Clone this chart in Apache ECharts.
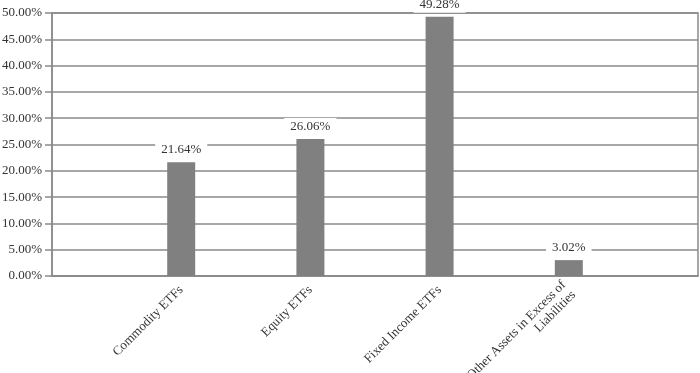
<!DOCTYPE html>
<html><head><meta charset="utf-8">
<script src="https://cdn.jsdelivr.net/npm/echarts@6/dist/echarts.min.js"></script>
<style>html,body{margin:0;padding:0;background:#fff}#c{width:700px;height:373px}</style>
</head><body><div id="c"></div>
<script>
var categories = ['', 'Commodity ETFs', 'Equity ETFs', 'Fixed Income ETFs', 'Other Assets in Excess of\nLiabilities', ''];
var values = [null, 21.64, 26.06, 49.28, 3.02, null];
var yMin = 0, yMax = 50, yStep = 5;

var font = '"Liberation Serif", "Times New Roman", Times, serif';
var lineColor = '#8a8a8a';
var chart = echarts.init(document.getElementById('c'));
chart.setOption({
  animation: false,
  backgroundColor: '#fff',
  grid: {left: 52, right: 2, top: 13, bottom: 97, containLabel: false, outerBoundsMode: 'none',
    show: true, borderColor: lineColor, borderWidth: 1.5},
  xAxis: {
    type: 'category', data: categories, boundaryGap: false,
    axisLine: {lineStyle: {color: lineColor, width: 1.5}},
    axisTick: {show: false},
    splitLine: {show: false},
    axisLabel: {rotate: 45, margin: 12, interval: 0, color: '#333', fontFamily: font, fontSize: 13, lineHeight: 14}
  },
  yAxis: {
    type: 'value', min: yMin, max: yMax, interval: yStep,
    axisLine: {show: true, lineStyle: {color: lineColor, width: 1.5}},
    axisTick: {show: true, length: 7, lineStyle: {color: lineColor, width: 1.5}},
    splitLine: {lineStyle: {color: lineColor, width: 1.5}},
    axisLabel: {margin: 10, color: '#333', fontFamily: font, fontSize: 13,
      formatter: function (v) { return v.toFixed(2) + '%'; }}
  },
  series: [{
    type: 'bar', data: values, barWidth: 28,
    itemStyle: {color: '#808080'},
    label: {show: true, position: 'top', distance: 4, color: '#333', fontFamily: font, fontSize: 13,
      backgroundColor: '#fff', padding: [2, 6],
      formatter: function (p) { return p.value.toFixed(2) + '%'; }}
  }]
});
</script></body></html>
